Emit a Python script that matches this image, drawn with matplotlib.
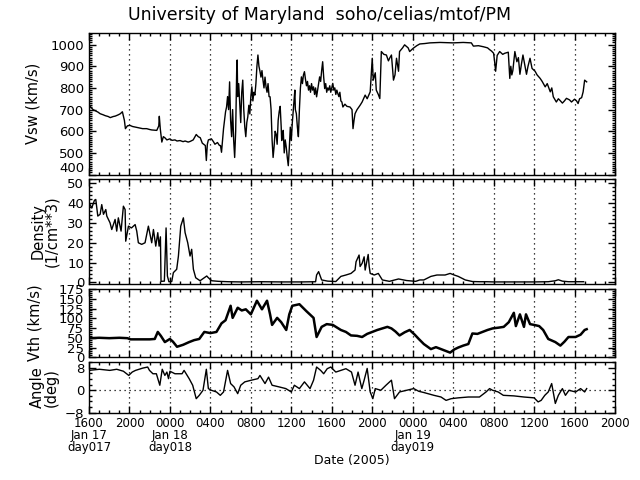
import matplotlib
matplotlib.use("Agg")
from matplotlib import pyplot as plt
from matplotlib.ticker import MultipleLocator

# hours since 2005-01-17 16:00 UT
vsw_t = [0.1, 0.4, 0.6, 0.9, 1.1, 1.4, 1.6, 1.9, 2.1, 2.4, 2.6, 2.9, 3.1, 3.3, 3.5, 3.6,
         3.8, 4.05, 4.3, 4.5, 4.8, 5.0, 5.3, 5.7, 6.0, 6.2, 6.5, 6.7, 6.9, 6.95, 7.05,
         7.2, 7.35, 7.5, 7.7, 8.0, 8.2, 8.5, 8.7, 9.0, 9.3, 9.5, 9.8, 10.0, 10.3, 10.6,
         10.8, 11.0, 11.2, 11.5, 11.6, 11.7, 11.8, 12.1, 12.3, 12.45, 12.7, 12.9,
         13.0, 13.1, 13.2, 13.3, 13.4, 13.5, 13.6, 13.7, 13.8, 13.9, 14.0, 14.1, 14.2,
         14.3, 14.4, 14.5, 14.6, 14.65, 14.7, 14.8, 14.9, 15.0, 15.1, 15.2, 15.3, 15.4,
         15.5, 15.6, 15.7, 15.8, 15.9, 16.0, 16.1, 16.2, 16.3, 16.4, 16.5, 16.6, 16.7,
         16.8, 16.9, 17.0, 17.1, 17.2, 17.3, 17.4, 17.5, 17.6, 17.7, 17.8, 17.9, 18.0,
         18.05, 18.1, 18.2, 18.3, 18.4, 18.5, 18.6, 18.7, 18.8, 18.9, 19.0, 19.05, 19.1,
         19.2, 19.3, 19.4, 19.5, 19.6, 19.7, 19.8, 19.9, 20.0, 20.1, 20.2, 20.3, 20.35,
         20.4, 20.5, 20.6, 20.7, 20.8, 20.9, 21.0, 21.1, 21.2, 21.3, 21.4, 21.5, 21.6,
         21.7, 21.8, 21.9, 22.0, 22.1, 22.2, 22.3, 22.4, 22.5, 22.6, 22.7, 22.8, 22.9,
         23.0, 23.1, 23.2, 23.3, 23.4, 23.5, 23.6, 23.7, 23.8, 23.9, 24.0, 24.1, 24.2,
         24.3, 24.4, 24.5, 24.6, 24.7, 24.8, 24.9, 25.0, 25.1, 25.3, 25.5, 25.8, 26.0,
         26.1, 26.2, 26.3, 26.5, 26.8, 27.0, 27.3, 27.5, 27.8, 28.0, 28.1, 28.3,
         28.4, 28.6, 28.75, 28.9, 29.15, 29.4, 29.6, 29.75, 29.9, 30.1, 30.25, 30.4,
         30.6, 30.7, 31.0, 31.2, 31.55, 31.7, 32.05, 32.4, 32.7, 33.2, 33.7, 34.7, 36.0,
         37.0, 37.8, 38.0, 38.5, 39.0, 39.4, 39.6, 39.8, 40.0, 40.1, 40.2, 40.35, 40.6,
         40.9, 41.1, 41.45, 41.6, 41.7, 41.8, 41.9, 42.1, 42.3, 42.45, 42.6, 42.75,
         42.9, 43.1, 43.25, 43.4, 43.6, 43.8, 44.1, 44.3, 44.6, 44.8, 45.1, 45.3, 45.6,
         45.75, 45.9, 46.2, 46.4, 46.55, 46.8, 47.0, 47.2, 47.5, 47.7, 48.0, 48.2,
         48.35, 48.5, 48.7, 48.85, 49.0, 49.2]
vsw_v = [715, 700, 695, 688, 681, 676, 672, 668, 663, 668, 670, 676, 681, 690, 650, 612,
         625, 627, 622, 620, 617, 615, 612, 612, 608, 606, 605, 604, 625, 669, 610,
         550, 575, 570, 560, 565, 558, 560, 555, 557, 552, 555, 550, 553, 560, 585,
         575, 570, 545, 534, 465, 540, 560, 565, 552, 540, 548, 534,
         534, 503, 560, 612, 650, 690, 712, 760, 700, 828, 650, 575, 700,
         560, 479, 600, 880, 929, 760, 820, 728, 640, 780, 836, 700, 620,
         575, 640, 667, 720, 680, 760, 805, 740, 780, 767, 820, 900, 952,
         900, 877, 850, 880, 836, 800, 850, 805, 780, 820, 760, 759, 700,
         627, 560, 479, 530, 600, 586, 540, 650, 690, 715, 620, 557, 580,
         604, 500, 560, 526, 480, 441, 520, 619, 557, 640, 697, 760, 790,
         700, 681, 620, 575, 700, 800, 851, 820, 860, 875, 840, 810, 830,
         790, 810, 780, 820, 790, 805, 770, 800, 759, 790, 820, 851, 830,
         880, 921, 850, 797, 820, 780, 800, 790, 810, 780, 800, 821, 790,
         800, 770, 790, 774, 760, 780, 740, 735, 712, 725, 715, 712, 700,
         612, 650, 681, 700, 720, 735, 767, 750, 782, 937, 836, 870,
         790, 770, 751, 968, 955, 952, 925, 940, 952, 836, 860, 937,
         877, 968, 985, 999, 985, 968, 983, 995, 1003, 1005, 1008, 1010, 1008,
         1010, 1008, 993, 995, 990, 985, 977, 970, 960, 921, 877, 950, 968,
         955, 960, 965, 844, 900, 860, 880, 968, 921, 940, 863, 910,
         952, 900, 863, 900, 937, 890, 877, 860, 844, 830, 805, 820, 782,
         800, 759, 735, 750, 743, 730, 740, 752, 745, 735, 748, 740,
         728, 750, 755, 782, 836, 828]

den_t = [0.1, 0.27, 0.54, 0.67, 0.87, 1.1, 1.26, 1.43, 1.66, 1.76, 2.08, 2.25, 2.58, 2.74,
         2.9, 3.17, 3.4, 3.57, 3.63, 3.9, 4.2, 4.56, 4.72, 4.88, 5.21, 5.54, 5.87, 6.2, 6.37,
         6.6, 6.8, 6.93, 7.06, 7.12, 7.45, 7.62, 7.75, 7.9, 8.18, 8.34, 8.67, 8.84, 9.07,
         9.33, 9.5, 9.76, 9.99, 10.15, 10.32, 10.55, 10.98, 11.64, 11.8, 12.13, 12.79, 13.78,
         15.0, 17.0, 19.0, 21.0, 22.4, 22.5, 22.7, 23.0, 23.6, 24.4, 24.9, 25.4, 25.9, 26.3,
         26.4, 26.7, 26.8, 27.0, 27.2, 27.3, 27.6, 27.7, 27.8, 28.2, 28.6, 29.0, 29.7, 30.6,
         31.4, 32.3, 32.7, 33.1, 33.8, 34.4, 35.2, 35.7, 36.1, 36.5, 37.2, 37.9, 38.6, 39.3,
         40.0, 42.0, 44.0, 45.4, 46.1, 46.4, 46.8, 47.4, 48.9]
den_v = [39.3, 37.6, 41.5, 41.9, 33.5, 34.4, 39.3, 34.4, 36.8, 33.5, 30.1, 26.7, 31.8, 25.9,
         32.6, 25.9, 38.5, 36.8, 20.8, 28.4, 27.5, 29.2, 25.9, 20.0, 19.2, 20.0, 28.4, 20.0, 26.7,
         18.3, 25.1, 18.3, 23.0, 0.5, 0.6, 27.5, 3.2, 0.3, 0.4, 4.9, 6.6, 13.3, 28.4,
         32.6, 25.1, 20.0, 13.3, 16.7, 6.6, 2.3, 0.8, 3.2, 2.3, 0.8, 0.5, 0.3,
         0.2, 0.3, 0.2, 0.2, 0.3, 3.7, 5.4, 1.2, 0.6, 0.4, 3.0, 3.7, 4.5, 6.2,
         10.4, 13.8, 8.0, 9.6, 12.9, 6.2, 14.1, 8.0, 4.5, 3.7, 4.5, 1.2, 0.5, 1.7,
         0.9, 0.5, 1.2, 1.2, 3.0, 3.7, 3.7, 4.5, 3.7, 3.0, 1.2, 0.4, 0.3, 0.3,
         0.2, 0.2, 0.2, 0.3, 0.8, 1.3, 0.6, 0.3, 0.3]

vth_t = [0.0, 1.0, 2.0, 3.0, 3.8, 4.1, 5.0, 6.0, 6.5, 6.8, 7.1, 7.5, 8.0, 8.3, 8.7, 9.3, 9.9,
         10.4, 10.9, 11.4, 12.0, 12.6, 13.1, 13.5, 14.0, 14.2, 14.7, 15.1, 15.5, 16.0, 16.6,
         17.1, 17.6, 17.9, 18.1, 18.6, 19.0, 19.5, 19.8, 20.1, 20.8, 21.5, 22.2, 22.5, 23.0,
         23.5, 24.1, 24.9, 25.4, 25.9, 26.5, 27.0, 27.5, 28.0, 28.5, 29.0, 29.5, 29.9, 30.3,
         30.7, 31.2, 31.7, 32.2, 32.6, 33.1, 33.8, 34.3, 34.8, 35.2, 35.7, 36.1, 36.5, 37.0,
         37.5, 37.9, 38.4, 38.9, 39.4, 39.9, 40.5, 41.0, 41.5, 42.0, 42.2, 42.6, 43.0, 43.2,
         43.6, 44.0, 44.5, 44.9, 45.4, 46.1, 46.6, 47.0, 47.4, 48.1, 48.6, 49.0, 49.2]
vth_v = [49, 50, 49, 50, 49, 46, 46, 46, 47, 65, 55, 39, 47, 40, 27, 32, 39,
         44, 47, 65, 62, 65, 87, 95, 132, 101, 127, 120, 123, 110, 145,
         123, 145, 110, 83, 101, 90, 70, 110, 132, 136, 118, 101, 52, 78,
         85, 83, 70, 65, 56, 55, 52, 60, 65, 70, 74, 78, 74, 66,
         56, 64, 70, 58, 47, 34, 21, 26, 21, 17, 12, 20, 25, 30,
         34, 61, 60, 65, 70, 74, 76, 78, 90, 114, 80, 110, 78, 110,
         85, 83, 80, 70, 47, 39, 30, 40, 52, 52, 58, 70, 72]

ang_t = [0.0, 1.03, 2.05, 2.74, 3.4, 3.93, 4.27, 4.6, 5.3, 5.8, 5.98, 6.32, 6.66, 7.0, 7.24,
         7.5, 7.7, 7.86, 8.0, 8.5, 9.2, 9.4, 9.9, 10.25, 10.6, 10.9, 11.27, 11.6, 11.8, 12.1,
         12.6, 12.98, 13.3, 13.7, 14.0, 14.34, 14.7, 15.0, 15.4, 16.05, 16.7, 16.9, 17.4,
         17.75, 18.1, 18.8, 19.46, 20.0, 20.3, 20.8, 21.3, 21.85, 22.2, 22.5, 22.9, 23.2,
         23.55, 23.9, 24.4, 24.9, 25.4, 25.95, 26.3, 26.6, 26.97, 27.2, 27.5, 27.8, 28.06,
         28.3, 28.85, 29.36, 29.9, 30.2, 30.7, 31.4, 32.1, 32.6, 33.1, 34.1, 34.8, 35.3, 35.8,
         36.5, 37.5, 38.6, 39.25, 39.6, 39.9, 40.45, 40.96, 42.0, 43.0, 44.0, 44.4, 44.7,
         45.06, 45.4, 45.74, 46.1, 46.4, 46.8, 47.1, 47.45, 48.1, 48.6, 49.0, 49.2]
ang_v = [7.1, 7.5, 7.1, 7.5, 6.8, 5.3, 6.5, 7.1, 7.9, 8.3, 7.1, 5.9, 5.9, 1.8, 7.5,
         5.3, 6.5, 4.15, 6.8, 5.9, 5.9, 7.1, 4.15, 1.8, -3.0, -1.8, 0.0, 7.5, 0.6, 0.0,
         -0.6, -1.8, -0.6, 7.1, 2.4, 1.2, -1.2, 1.8, 3.0, 3.6, 4.15, 5.3, 2.4,
         4.7, 1.8, 1.2, 0.6, -0.6, 1.8, 0.6, 3.0, 0.6, 3.6, 8.3, 7.1, 5.9,
         7.7, 8.3, 6.5, 7.1, 7.7, 6.5, 1.8, 6.5, 0.6, 3.6, 7.8, -0.6, -3.0,
         0.6, 0.0, 1.8, 3.6, -3.0, -0.6, 0.0, 0.6, -0.36, -0.8, -1.8, -2.4, -3.6, -3.0,
         -2.7, -2.4, -2.4, -0.6, 0.6, 0.0, -0.6, -1.8, -2.0, -2.4, -2.7, -4.15, -3.6,
         -1.8, -0.6, 2.4, -4.7, -1.8, 0.6, -1.8, 0.0, -0.6, 0.6, -0.6, 0.6]

tick_hours = list(range(0, 53, 4))
tick_labels = ["1600\nJan 17\nday017", "2000", "0000\nJan 18\nday018", "0400", "0800",
               "1200", "1600", "2000", "0000\nJan 19\nday019", "0400", "0800", "1200",
               "1600", "2000"]

plt.rcParams['font.family'] = ['DejaVu Sans']
fig = plt.figure(figsize=(6.4, 4.8), dpi=100)
fig.patch.set_facecolor("white")

left, width = 89 / 640, (615 - 89) / 640
rows = [(32.7, 175.0), (178.5, 284.3), (289.0, 357.3), (361.7, 412.7)]
axes = []
for top, bot in rows:
    axes.append(fig.add_axes([left, 1 - bot / 480, width, (bot - top) / 480]))

# data, ylim, major, minor, label, label x (px), line width
panels = [
    (vsw_t, vsw_v, (398, 1055), 100, 10, "Vsw (km/s)", 41, 1.0),
    (den_t, den_v, (-1.0, 52.5), 10, 2, "Density\n(1/cm**3)", 59, 1.0),
    (vth_t, vth_v, (0, 175), 25, 5, "Vth (km/s)", 43, 1.8),
    (ang_t, ang_v, (-8, 10.2), 8, 2, "Angle\n(deg)", 59, 1.0),
]

for ax, (t, v, ylim, major, minor, label, lx, lw) in zip(axes, panels):
    ax.plot(t, v, color="black", lw=lw)
    ax.set_xlim(0, 52)
    ax.set_ylim(*ylim)
    ax.yaxis.set_major_locator(MultipleLocator(major))
    ax.yaxis.set_minor_locator(MultipleLocator(minor))
    ax.set_xticks(tick_hours)
    ax.xaxis.set_minor_locator(MultipleLocator(1))
    ax.tick_params(which="both", direction="in", top=True, right=True, labelsize=9.5,
                   width=1, color="black")
    ax.tick_params(which="major", length=5)
    ax.tick_params(which="minor", length=2.5)
    for s in ax.spines.values():
        s.set_linewidth(1)
    for h in tick_hours[1:-1]:
        ax.axvline(h, color="black", lw=0.9, ls=(0, (1, 3)))
    ax.set_ylabel(label, fontsize=10.5, linespacing=0.9)
    ax.yaxis.set_label_coords((lx - 89) / 526, 0.5)
    ax.set_xticklabels([])

axes[0].set_yticks(range(400, 1001, 100))
axes[3].set_yticks([-8, 0, 8])
axes[3].axhline(0, color="black", lw=0.9, ls=(0, (1, 3)))
axes[3].set_xticklabels(tick_labels, fontsize=8.5, linespacing=0.9, va="top")
axes[3].tick_params(axis="x", pad=3)
axes[3].set_xlabel("Date (2005)", fontsize=9, labelpad=0)

fig.text(0.5, 0.968, "University of Maryland  soho/celias/mtof/PM", ha="center",
         va="center", fontsize=12.5)

fig.canvas.draw()
axes[0].get_yticklabels()[0].set_va("bottom")

fig.savefig("out.png", dpi=100, facecolor="white")
